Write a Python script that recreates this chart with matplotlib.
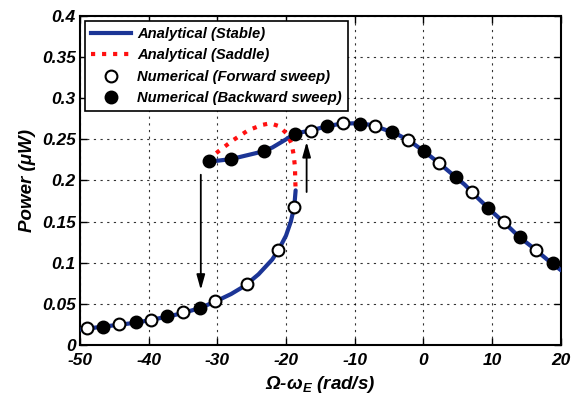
import matplotlib
matplotlib.use('Agg')
import matplotlib.pyplot as plt
from matplotlib.lines import Line2D

plt.rcParams['font.family'] = ['Liberation Sans', 'DejaVu Sans']
plt.rcParams['axes.unicode_minus'] = False
plt.rcParams['mathtext.fontset'] = 'custom'
plt.rcParams['mathtext.rm'] = 'Liberation Sans:bold:italic'
plt.rcParams['mathtext.it'] = 'Liberation Sans:bold:italic'
plt.rcParams['mathtext.bf'] = 'Liberation Sans:bold:italic'

# ===== 数据 =====
# 稳定分支（下）
stable_lo_x = [-50, -47, -45, -42, -40, -37, -35, -32.5, -30, -28, -26, -24, -22, -21, -20, -19.3, -18.8, -18.6]
stable_lo_y = [0.019, 0.022, 0.024, 0.027, 0.030, 0.035, 0.039, 0.045, 0.054, 0.062, 0.072, 0.086, 0.104, 0.117, 0.133, 0.150, 0.168, 0.188]
# 稳定分支（上）
stable_hi_x = [-31.3, -30, -28, -26, -24, -22, -20, -18.7, -16.3, -14, -12, -10, -8, -6, -4, -2, 0,
               2, 4, 6, 8, 10, 12, 14, 16, 18, 20]
stable_hi_y = [0.224, 0.224, 0.226, 0.230, 0.234, 0.240, 0.250, 0.257, 0.261, 0.266, 0.269, 0.2695, 0.268,
               0.263, 0.257, 0.248, 0.236, 0.223, 0.209, 0.195, 0.178, 0.162, 0.147, 0.131, 0.118, 0.104, 0.091]
# 鞍点分支
saddle_x = [-31.3, -30.8, -29.9, -27.7, -25.5, -23.5, -22.3, -21, -19.9, -19.2, -18.9, -18.7, -18.65, -18.6]
saddle_y = [0.224, 0.229, 0.235, 0.249, 0.261, 0.2675, 0.2695, 0.266, 0.257, 0.245, 0.232, 0.217, 0.200, 0.188]
# 数值：正向扫描（空心）
fwd_x = [-49.0, -44.3, -39.7, -35.05, -30.3, -25.7, -21.1, -18.8, -16.3, -11.7, -7.06, -2.3, 2.26, 7.0, 11.7, 16.4]
fwd_y = [0.0203, 0.026, 0.031, 0.040, 0.054, 0.074, 0.116, 0.168, 0.260, 0.2695, 0.266, 0.249, 0.221, 0.186, 0.149, 0.115]
# 数值：反向扫描（实心）
bwd_x = [-46.6, -41.8, -37.3, -32.5, -31.2, -28.0, -23.2, -18.7, -14.0, -9.2, -4.6, 0.07, 4.7, 9.4, 14.05, 18.8]
bwd_y = [0.022, 0.028, 0.035, 0.045, 0.224, 0.226, 0.236, 0.257, 0.266, 0.2687, 0.259, 0.236, 0.204, 0.167, 0.131, 0.100]

BLUE = '#1c3596'
RED = '#ff1010'

fig = plt.figure(figsize=(5.83, 3.98), dpi=100)
ax = fig.add_axes([0.137, 0.133, 0.825, 0.827])

ax.plot(stable_lo_x, stable_lo_y, '-', color=BLUE, lw=3, zorder=3, solid_capstyle='round')
ax.plot(stable_hi_x, stable_hi_y, '-', color=BLUE, lw=3, zorder=3, solid_capstyle='round')
ax.plot(saddle_x, saddle_y, ':', color=RED, lw=3, zorder=3)
ax.plot(fwd_x, fwd_y, 'o', ms=8.5, mfc='white', mec='black', mew=1.5, zorder=5)
ax.plot(bwd_x, bwd_y, 'o', ms=8.5, mfc='black', mec='black', mew=1.5, zorder=5)

# 跳跃箭头
arr = dict(arrowstyle='-|>,head_length=0.9,head_width=0.25', color='black', lw=1.3,
           shrinkA=0, shrinkB=0)
ax.annotate('', xy=(-32.4, 0.067), xytext=(-32.4, 0.207), arrowprops=arr, zorder=6)
ax.annotate('', xy=(-17.0, 0.247), xytext=(-17.0, 0.186), arrowprops=arr, zorder=6)

ax.set_xlim(-50, 20)
ax.set_ylim(0, 0.4)
ax.set_xticks(range(-50, 21, 10))
ax.set_yticks([0, 0.05, 0.1, 0.15, 0.2, 0.25, 0.3, 0.35, 0.4])
ax.set_yticklabels(['0', '0.05', '0.1', '0.15', '0.2', '0.25', '0.3', '0.35', '0.4'])
ax.grid(True, linestyle=(0, (2, 4)), color='black', lw=0.8, alpha=0.8)
ax.tick_params(direction='in', top=True, right=True, length=5, width=1, labelsize=12.5)
ax.tick_params(axis='x', pad=6)
ax.tick_params(axis='y', pad=3)
for lab in ax.get_xticklabels() + ax.get_yticklabels():
    lab.set_fontweight('bold')
    lab.set_fontstyle('italic')
for s in ax.spines.values():
    s.set_linewidth(1.5)

ax.set_xlabel('Ω-ω$_E$ (rad/s)', fontsize=13.5, fontweight='bold', fontstyle='italic', labelpad=4)
ax.set_ylabel('Power (μW)', fontsize=13.5, fontweight='bold', fontstyle='italic', labelpad=4)

handles = [
    Line2D([], [], color=BLUE, lw=3),
    Line2D([], [], color=RED, lw=3, ls=':'),
    Line2D([], [], ls='', marker='o', ms=8.5, mfc='white', mec='black', mew=1.5),
    Line2D([], [], ls='', marker='o', ms=8.5, mfc='black', mec='black', mew=1.5),
]
labels = ['Analytical (Stable)', 'Analytical (Saddle)',
          'Numerical (Forward sweep)', 'Numerical (Backward sweep)']
leg = ax.legend(handles, labels, loc='upper left', fancybox=False, framealpha=1,
                edgecolor='black', handlelength=2.7, handletextpad=0.45, labelspacing=0.5,
                borderpad=0.4, borderaxespad=0.35,
                prop={'weight': 'bold', 'style': 'italic', 'size': 10.6})
leg.get_frame().set_linewidth(1.2)
leg.set_zorder(10)

fig.savefig('out.png', dpi=100)
